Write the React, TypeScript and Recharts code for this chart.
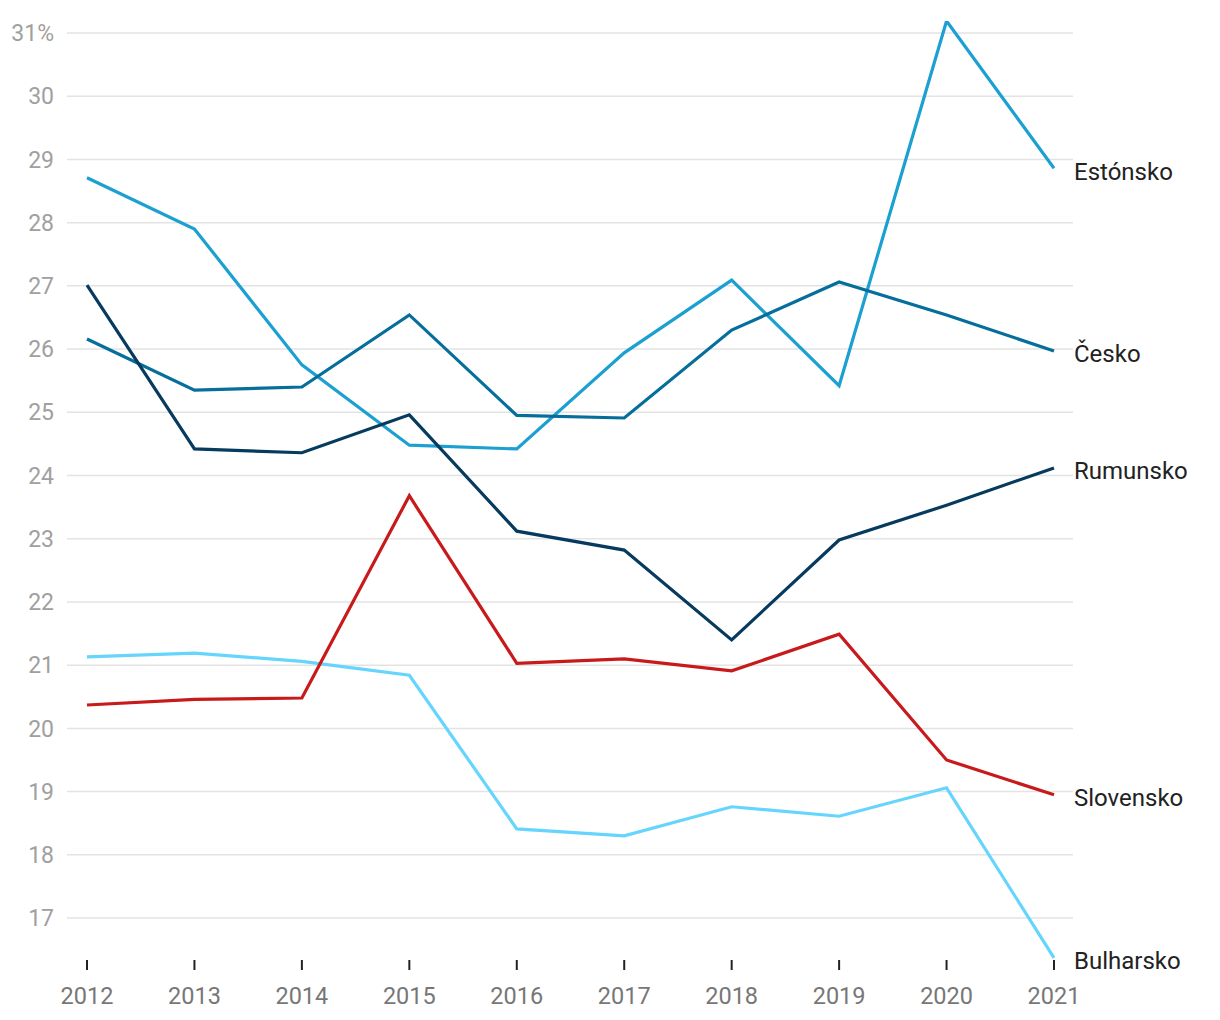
import { LineChart, Line, XAxis, YAxis, CartesianGrid } from "recharts";

const years = ["2012", "2013", "2014", "2015", "2016", "2017", "2018", "2019", "2020", "2021"];

const estonsko = [28.71, 27.9, 25.75, 24.48, 24.42, 25.94, 27.09, 25.42, 31.19, 28.86];
const cesko = [26.16, 25.35, 25.4, 26.54, 24.95, 24.91, 26.3, 27.06, 26.54, 25.97];
const rumunsko = [27.01, 24.42, 24.36, 24.96, 23.12, 22.82, 21.4, 22.98, 23.53, 24.12];
const slovensko = [20.37, 20.46, 20.48, 23.68, 21.03, 21.1, 20.91, 21.49, 19.5, 18.95];
const bulharsko = [21.13, 21.19, 21.06, 20.84, 18.41, 18.3, 18.76, 18.61, 19.06, 16.37];

const yTicks = [17, 18, 19, 20, 21, 22, 23, 24, 25, 26, 27, 28, 29, 30, 31];
const yMin = 16.336;
const yMax = 31.19;

const series = [
    { key: "Bulharsko", values: bulharsko, color: "#66d5fd" },
    { key: "Estónsko", values: estonsko, color: "#1ba0d1" },
    { key: "Česko", values: cesko, color: "#056e9b" },
    { key: "Slovensko", values: slovensko, color: "#c8191b" },
    { key: "Rumunsko", values: rumunsko, color: "#063a5e" },
];

const data = years.map((year, i) => {
    const row: Record<string, string | number> = { year };
    series.forEach((s) => {
        row[s.key] = s.values[i];
    });
    return row;
});

const FONT = "Roboto, 'Noto Sans', sans-serif";

function EndLabel(name: string) {
    return (props: any) => {
        const { x, y, index } = props;
        if (index !== years.length - 1) return null;
        return (
            <text
                x={x + 20}
                y={y + 5}
                dominantBaseline="middle"
                fontSize={24}
                fontFamily={FONT}
                fill="#222"
            >
                {name}
            </text>
        );
    };
}

// grid only on the tick values, not on the plot edges
const gridRows = ({ offset }: any) =>
    yTicks.map((t) => offset.top + ((yMax - t) / (yMax - yMin)) * offset.height);

export default function App() {
    return (
        <div style={{ width: 1204, height: 1007 }}>
            <LineChart
                width={1204}
                height={1007}
                data={data}
                margin={{ top: 13, right: 139, bottom: 0, left: 0 }}
            >
                <CartesianGrid
                    vertical={false}
                    stroke="#e3e3e3"
                    strokeWidth={1.5}
                    horizontalCoordinatesGenerator={gridRows}
                />
                <XAxis
                    dataKey="year"
                    axisLine={false}
                    tickLine={{ stroke: "#222", strokeWidth: 2 }}
                    tickSize={10}
                    tickMargin={17}
                    height={55}
                    padding={{ left: 20, right: 19 }}
                    tick={{ fill: "#777", fontSize: 23.5, fontFamily: FONT }}
                    interval={0}
                />
                <YAxis
                    type="number"
                    domain={[yMin, yMax]}
                    ticks={yTicks}
                    width={59}
                    axisLine={false}
                    tickLine={false}
                    tickSize={0}
                    tickMargin={13}
                    tick={{ fill: "#a0a0a0", fontSize: 23, fontFamily: FONT }}
                    tickFormatter={(v: number) => (v === 31 ? "31%" : String(v))}
                    allowDataOverflow
                />
                {series.map((s) => (
                    <Line
                        key={s.key}
                        dataKey={s.key}
                        stroke={s.color}
                        strokeWidth={3.2}
                        dot={false}
                        activeDot={false}
                        isAnimationActive={false}
                        label={EndLabel(s.key)}
                    />
                ))}
            </LineChart>
        </div>
    );
}
